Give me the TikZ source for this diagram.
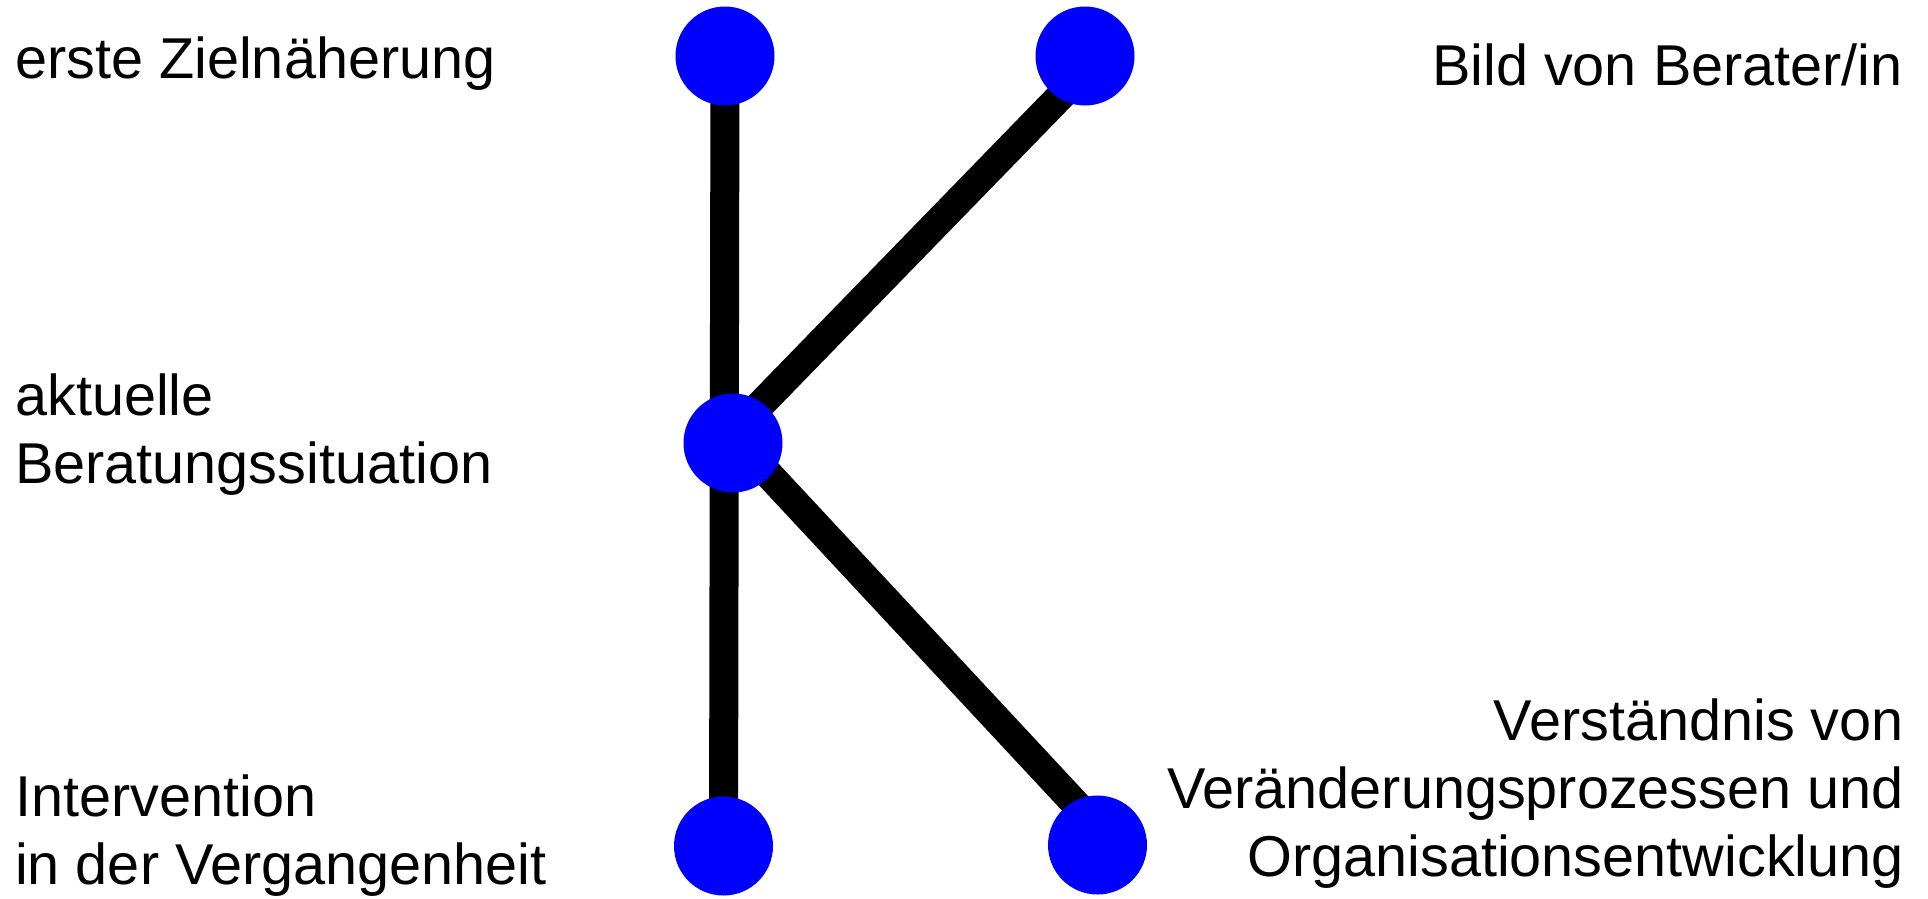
\documentclass[tikz,border=0pt]{standalone}
\usepackage{fontspec}
\setmainfont{Liberation Sans}
\usetikzlibrary{backgrounds}
\definecolor{dotblue}{RGB}{0,0,255}
\begin{document}
\begin{tikzpicture}[x=1pt,y=-1pt,
  dot/.style={circle,fill=dotblue,minimum size=99pt,inner sep=0pt},
  conn/.style={line width=29pt,black},
  lbl/.style={font=\fontsize{57.6pt}{68pt}\selectfont,inner sep=0pt,text=black}]
\useasboundingbox (0,0) rectangle (1928,898);
\node[dot] (tl) at (725,56) {};
\node[dot] (tr) at (1085,56) {};
\node[dot] (m)  at (733,443) {};
\node[dot] (bl) at (723.5,846) {};
\node[dot] (br) at (1097.5,845) {};
\begin{pgfonlayer}{background}
\draw[conn] (tl.center) -- (bl.center);
\draw[conn] ([shift={(2.8,-13)}]m.center) -- ([shift={(-4,19)}]tr.center);
\draw[conn] ([shift={(17.7,12)}]m.center) -- ([shift={(2.4,-15)}]br.center);
\end{pgfonlayer}
\node[lbl,anchor=base west] (t1) at (15,78) {erste Zielnäherung};
\node[lbl,anchor=base west,align=left] (t2) at (15,483) {aktuelle\\Beratungssituation};
\node[lbl,anchor=base west,align=left] (t3) at (15,884) {Intervention\\in der Vergangenheit};
\node[lbl,anchor=base east] (t4) at (1903,85) {Bild von Berater/in};
\node[lbl,anchor=base east,align=right] (t5) at (1904,876) {Verständnis von\\Veränderungsprozessen und\\Organisationsentwicklung};
\end{tikzpicture}
\end{document}
